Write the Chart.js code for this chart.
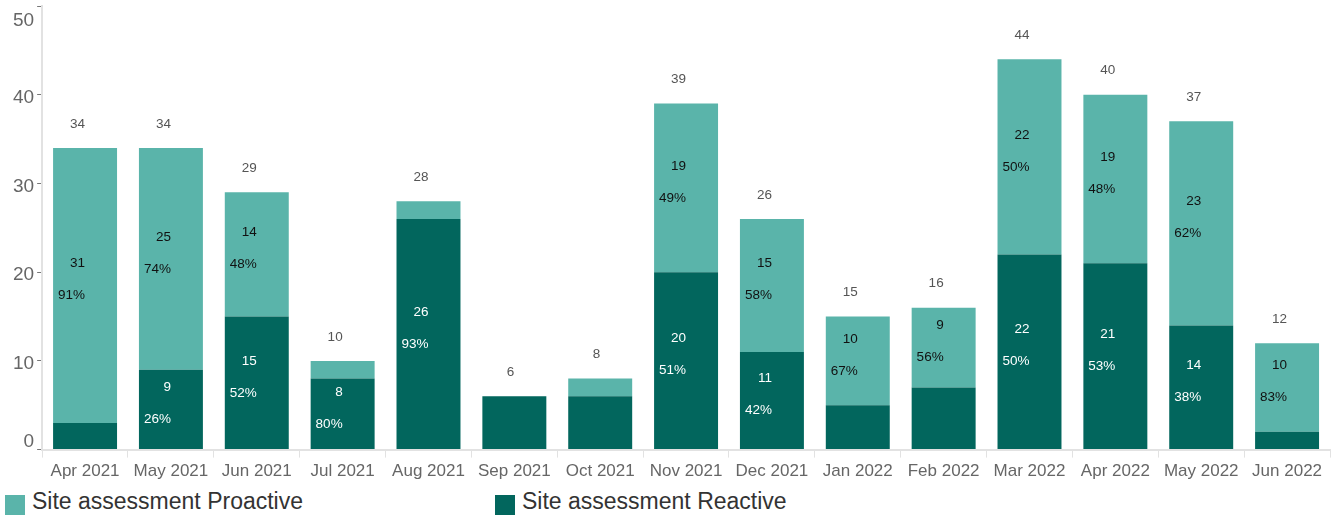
<!DOCTYPE html>
<html>
<head>
<meta charset="utf-8">
<script src="https://cdn.jsdelivr.net/npm/chart.js@4"></script>
<style>
    body { margin: 0; background: #fff; font-family: "Liberation Sans", Arial, sans-serif; }
    #wrap { position: relative; width: 1338px; height: 515px; overflow: hidden; }
    #chart-box { position: absolute; left: 0; top: 0; width: 1338px; height: 486px; }
    .legend-item { position: absolute; top: 488px; height: 27px; font-size: 23px; color: #333; line-height: 27px; white-space: nowrap; }
    .legend-item span.box { position: absolute; left: 0; top: 7px; width: 20px; height: 20px; }
    .legend-item span.txt { position: absolute; left: 27px; top: 0; }
</style>
</head>
<body>
<div id="wrap">
    <div id="chart-box"><canvas id="chart"></canvas></div>
    <div class="legend-item" style="left:5px"><span class="box" style="background:#5AB4AA"></span><span class="txt">Site assessment Proactive</span></div>
    <div class="legend-item" style="left:495px"><span class="box" style="background:#02665D"></span><span class="txt">Site assessment Reactive</span></div>
</div>
<script>
var months = ['Apr 2021', 'May 2021', 'Jun 2021', 'Jul 2021', 'Aug 2021', 'Sep 2021', 'Oct 2021', 'Nov 2021',
    'Dec 2021', 'Jan 2022', 'Feb 2022', 'Mar 2022', 'Apr 2022', 'May 2022', 'Jun 2022'];
var reactive = [3, 9, 15, 8, 26, 6, 6, 20, 11, 5, 7, 22, 21, 14, 2];
var proactive = [31, 25, 14, 2, 2, 0, 2, 19, 15, 10, 9, 22, 19, 23, 10];
var yTicks = [0, 10, 20, 30, 40, 50];

var FONT = '"Liberation Sans", Arial, sans-serif';

// count + % inside segments, totals above bars, y tick labels kept inside the plot height
var barLabels = {
    id: 'barLabels',
    afterDatasetsDraw: function (chart) {
        var ctx = chart.ctx;
        ctx.save();
        ctx.textAlign = 'right';
        ctx.textBaseline = 'middle';
        ctx.font = '13.5px ' + FONT;
        chart.data.datasets.forEach(function (ds, di) {
            var meta = chart.getDatasetMeta(di);
            meta.data.forEach(function (bar, i) {
                var v = ds.data[i];
                var total = reactive[i] + proactive[i];
                if (v < 8) return;
                var mid = (bar.y + bar.base) / 2;
                ctx.fillStyle = ds.labelColor;
                ctx.fillText(String(v), bar.x, mid - 22);
                ctx.fillText(Math.round(v / total * 100) + '%', bar.x, mid + 10);
            });
        });
        var top = chart.getDatasetMeta(chart.data.datasets.length - 1);
        ctx.fillStyle = '#555';
        top.data.forEach(function (bar, i) {
            var total = reactive[i] + proactive[i];
            var y = chart.scales.y.getPixelForValue(total);
            ctx.fillText(String(total), bar.x, y - 24);
        });

        var ys = chart.scales.y;
        var area = chart.chartArea;
        ctx.font = '19px ' + FONT;
        ctx.fillStyle = '#666';
        yTicks.forEach(function (v) {
            var py = ys.getPixelForValue(v) + 3;
            py = Math.min(Math.max(py, area.top + 15), area.bottom - 8);
            ctx.fillText(String(v), ys.right - 8, py);
        });
        ctx.restore();
    }
};

new Chart(document.getElementById('chart'), {
    type: 'bar',
    data: {
        labels: months,
        datasets: [{
            label: 'Site assessment Reactive',
            data: reactive,
            backgroundColor: '#02665D',
            labelColor: '#fff',
            barPercentage: 0.745,
            categoryPercentage: 1
        }, {
            label: 'Site assessment Proactive',
            data: proactive,
            backgroundColor: '#5AB4AA',
            labelColor: '#111',
            barPercentage: 0.745,
            categoryPercentage: 1
        }]
    },
    options: {
        responsive: true,
        maintainAspectRatio: false,
        animation: false,
        layout: { padding: { left: 10, right: 8, top: 6, bottom: 0 } },
        plugins: {
            legend: { display: false },
            tooltip: { enabled: false }
        },
        scales: {
            x: {
                stacked: true,
                border: { color: '#e2e2e2', width: 2 },
                grid: { drawOnChartArea: false, tickLength: 8, color: '#e2e2e2' },
                ticks: { color: '#666', font: { size: 17, family: FONT }, padding: 4, maxRotation: 0 }
            },
            y: {
                stacked: true,
                min: 0,
                max: 50,
                afterBuildTicks: function (axis) {
                    axis.ticks = yTicks.map(function (v) { return { value: v }; });
                },
                afterFit: function (axis) {
                    axis.paddingTop = 0;
                    axis.paddingBottom = 0;
                },
                border: { color: '#e2e2e2', width: 2 },
                grid: { drawOnChartArea: false, tickLength: 5, color: '#777' },
                ticks: { color: 'rgba(0,0,0,0)', font: { size: 19, family: FONT }, padding: 3 }
            }
        }
    },
    plugins: [barLabels]
});
</script>
</body>
</html>
